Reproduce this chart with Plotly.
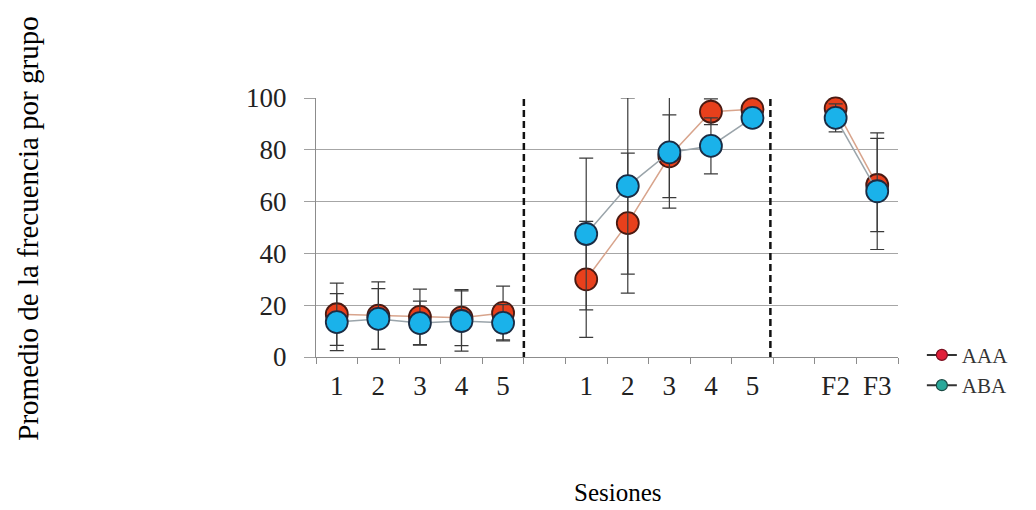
import plotly.graph_objects as go

# ---- data ----
x_pos = list(range(14))
x_labels = ["1", "2", "3", "4", "5", "", "1", "2", "3", "4", "5", "", "F2", "F3"]
aaa = [16.5, 16, 15.5, 15.2, 17, None, 30, 51.7, 77.5, 94.7, 95.7, None, 96, 66.4]
aba = [13.5, 14.7, 13.1, 13.9, 13.2, None, 47.5, 66, 79, 81.5, 92.3, None, 92.3, 64]
aaa_err = [12, 13, 10.7, 10.8, 10.4, None, 22.4, 27, 16, 5, 3, None, 4, 18]
aba_err = [11, 11.7, 8.5, 11.6, 7, None, 29.3, 34, 21.5, 10.8, 3, None, 5.4, 22.5]
phase_breaks = [4.5, 10.43]
y_ticks = [0, 20, 40, 60, 80, 100]

SERIF = "'Liberation Serif', 'Times New Roman', Times, serif"

fig = go.Figure()

fig.add_trace(go.Scatter(
    x=x_pos, y=aaa, name="AAA", mode="lines+markers", showlegend=False,
    connectgaps=False, cliponaxis=False,
    line=dict(color="#d8a48c", width=1.5),
    marker=dict(size=22, color="#e8401c", line=dict(color="#4a1a12", width=1.8)),
    error_y=dict(type="data", array=aaa_err, symmetric=True, color="#3a3a3a",
                 thickness=1.2, width=7),
))
fig.add_trace(go.Scatter(
    x=x_pos, y=aba, name="ABA", mode="lines+markers", showlegend=False,
    connectgaps=False, cliponaxis=False,
    line=dict(color="#9aa4aa", width=1.5),
    marker=dict(size=22, color="#1ab2ea", line=dict(color="#1a2c44", width=1.8)),
    error_y=dict(type="data", array=aba_err, symmetric=True, color="#3a3a3a",
                 thickness=1.2, width=7),
))

# legend-only entries
fig.add_trace(go.Scatter(
    x=[None], y=[None], name="AAA", mode="lines+markers",
    line=dict(color="#333333", width=2),
    marker=dict(size=11, color="#e0203a", line=dict(color="#7a1020", width=1.2)),
))
fig.add_trace(go.Scatter(
    x=[None], y=[None], name="ABA", mode="lines+markers",
    line=dict(color="#333333", width=2),
    marker=dict(size=11, color="#2aa89a", line=dict(color="#1a4a44", width=1.2)),
))

for xb in phase_breaks:
    fig.add_shape(type="line", xref="x", yref="y", x0=xb, x1=xb, y0=-5, y1=100.8,
                  line=dict(color="#111111", width=2.5, dash="7px,4px"))

fig.update_layout(
    width=1036, height=510, autosize=False,
    margin=dict(l=316, r=138, t=98, b=153),
    paper_bgcolor="white", plot_bgcolor="white",
    font=dict(family=SERIF, color="#222222"),
    legend=dict(x=1.041, y=0.086, xanchor="left", yanchor="top",
                font=dict(family=SERIF, size=21, color="#333333"),
                tracegroupgap=0,
                bgcolor="rgba(0,0,0,0)", borderwidth=0),
    annotations=[
        dict(text="Sesiones", xref="paper", yref="paper", x=0.519, y=-0.525,
             xanchor="center", yanchor="middle", showarrow=False,
             font=dict(family=SERIF, size=25, color="#000000")),
        dict(text="Promedio de la frecuencia por grupo", xref="paper", yref="paper",
             x=-0.495, y=0.495, xanchor="center", yanchor="middle", showarrow=False,
             textangle=-90, font=dict(family=SERIF, size=29, color="#000000")),
    ],
)

fig.update_xaxes(
    range=[-0.5, 13.5], tickmode="array", tickvals=x_pos, ticktext=x_labels,
    ticks="", showgrid=False, zeroline=False,
    showline=True, linecolor="#8c8c8c", linewidth=1.2,
    tickfont=dict(family=SERIF, size=27, color="#222222"),
    ticklabelstandoff=4,
    minor=dict(tickmode="array", tickvals=[i - 0.5 for i in range(15)],
               ticks="outside", ticklen=6, tickcolor="#8c8c8c", tickwidth=1),
)
fig.update_yaxes(
    range=[0, 100], tickmode="array", tickvals=y_ticks,
    ticks="outside", ticklen=11, tickcolor="#a0a0a0", tickwidth=1.2,
    showgrid=True, gridcolor="#a6a6a6", gridwidth=1.2, zeroline=False,
    showline=True, linecolor="#8c8c8c", linewidth=1.2,
    tickfont=dict(family=SERIF, size=27, color="#222222"),
    ticklabelstandoff=12,
)

fig.write_html("out.html")
